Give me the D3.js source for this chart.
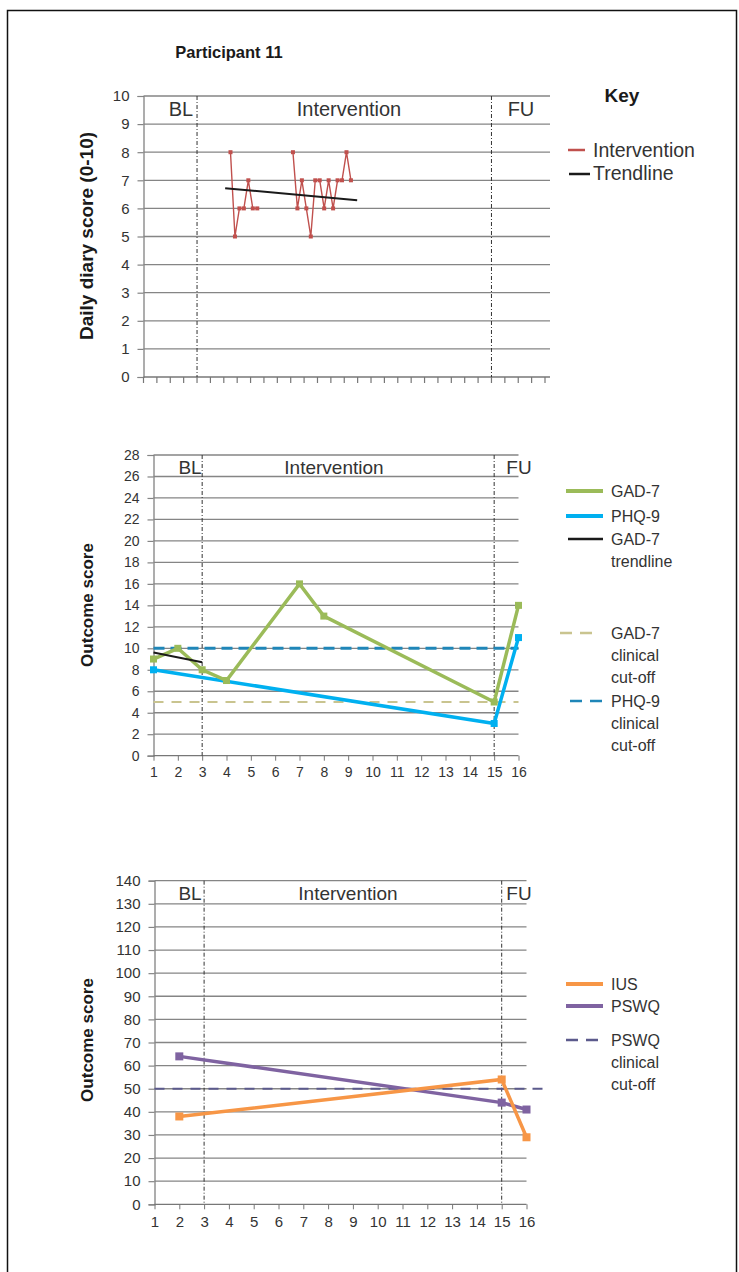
<!DOCTYPE html>
<html>
<head>
<meta charset="utf-8">
<script src="https://cdn.jsdelivr.net/npm/d3@7"></script>
<style>
  body { margin: 0; background: #fff; }
  svg { display: block; }
  text { font-family: "Liberation Sans", Arial, sans-serif; }
</style>
</head>
<body>
<svg id="chart" width="739" height="1272"></svg>
<script>
// ---- Participant 11 data ----
// Daily diary (0-10): day index on the diary timeline, score that day
const diaryDaysA = [19, 20, 21, 22, 23, 24, 25];
const diaryScoresA = [8, 5, 6, 6, 7, 6, 6];
const diaryDaysB = [33, 34, 35, 36, 37, 38, 39, 40, 41, 42, 43, 44, 45, 46];
const diaryScoresB = [8, 6, 7, 6, 5, 7, 7, 6, 7, 6, 7, 7, 8, 7];
const diaryTrendDays = [18.3, 47.9];
const diaryTrendScores = [6.72, 6.29];
const diaryTotalDays = 90;
const diaryTickStep = 3;
const diaryPhaseDays = [12, 78];
const diaryTicksY = [0, 1, 2, 3, 4, 5, 6, 7, 8, 9, 10];

// Session-by-session outcome measures
const sessionLabels = [1, 2, 3, 4, 5, 6, 7, 8, 9, 10, 11, 12, 13, 14, 15, 16];
const phaseSessions = [3, 15];

const gadSessions = [1, 2, 3, 4, 7, 8, 15, 16];
const gadScores = [9, 10, 8, 7, 16, 13, 5, 14];
const phqSessions = [1, 15, 16];
const phqScores = [8, 3, 11];
const gadTrendSessions = [1, 3];
const gadTrendScores = [9.6, 8.7];
const gadCutoff = 5;
const phqCutoff = 10;
const moodTicksY = [0, 2, 4, 6, 8, 10, 12, 14, 16, 18, 20, 22, 24, 26, 28];

const iusSessions = [2, 15, 16];
const iusScores = [38, 54, 29];
const pswqSessions = [2, 15, 16];
const pswqScores = [64, 44, 41];
const pswqCutoff = 50;
const worryTicksY = [0, 10, 20, 30, 40, 50, 60, 70, 80, 90, 100, 110, 120, 130, 140];

// ---- colours ----
const C = {
  diary: "#c0504d", gad: "#9bbb59", phq: "#00b0f0", ius: "#f79646", pswq: "#7f63a1",
  gadCut: "#c9c48f", phqCut: "#1f86b8", pswqCut: "#5b5a8c",
  grid: "#858585", axis: "#777", text: "#333", dark: "#1a1a1a"
};

const svg = d3.select("#chart");

// outer frame
svg.append("rect").attr("x", 7.5).attr("y", 10.5).attr("width", 729).attr("height", 1300)
  .attr("fill", "none").attr("stroke", "#111").attr("stroke-width", 1.5);

svg.append("text").attr("x", 229).attr("y", 58).attr("text-anchor", "middle")
  .attr("font-size", 16.5).attr("font-weight", "bold").attr("fill", C.dark)
  .text("Participant 11");

const lineGen = (x, y) => d3.line().x(d => x(d[0])).y(d => y(d[1]));
const pairs = (xs, ys) => xs.map((v, i) => [v, ys[i]]);

// generic panel frame: horizontal grid, y axis with ticks
function panel(opt) {
  const g = svg.append("g");
  const { y, x0, x1, yTicks, tickFont, labelGap } = opt;
  const yAxis = d3.axisLeft(y).tickValues(yTicks).tickSize(6).tickPadding(labelGap);
  const ga = g.append("g").attr("transform", `translate(${x0},0)`).call(yAxis);
  ga.select(".domain").attr("stroke", C.axis).attr("stroke-width", 1.2);
  ga.selectAll(".tick line").attr("stroke", C.grid).attr("stroke-width", 1.2);
  ga.selectAll(".tick text").attr("font-size", tickFont).attr("fill", C.text)
    .attr("font-family", "Liberation Sans, Arial, sans-serif");
  // horizontal gridlines
  g.append("g").selectAll("line").data(yTicks).join("line")
    .attr("x1", x0).attr("x2", x1).attr("y1", d => y(d)).attr("y2", d => y(d))
    .attr("stroke", d => d === 0 ? C.axis : C.grid).attr("stroke-width", 1.3);
  return g;
}

function phaseDividers(g, xs, yTop, yBot) {
  g.append("g").selectAll("line").data(xs).join("line")
    .attr("x1", d => d).attr("x2", d => d).attr("y1", yTop).attr("y2", yBot)
    .attr("stroke", "#333").attr("stroke-width", 1).attr("stroke-dasharray", "4,2,1,2");
}

function phaseLabels(g, pos, yy, size) {
  g.append("g").selectAll("text").data(pos).join("text")
    .attr("x", d => d[1]).attr("y", yy).attr("text-anchor", "middle")
    .attr("font-size", size).attr("fill", C.text).text(d => d[0]);
}

function axisTitle(xx, yy, txt, size) {
  svg.append("text").attr("transform", `translate(${xx},${yy}) rotate(-90)`)
    .attr("text-anchor", "middle").attr("font-size", size).attr("font-weight", "bold")
    .attr("fill", C.dark).text(txt);
}

function squares(g, pts, x, y, size, color) {
  g.append("g").selectAll("rect").data(pts).join("rect")
    .attr("x", d => x(d[0]) - size / 2).attr("y", d => y(d[1]) - size / 2)
    .attr("width", size).attr("height", size).attr("fill", color);
}

function legendLine(xa, xb, yy, color, w, dash) {
  svg.append("line").attr("x1", xa).attr("x2", xb).attr("y1", yy).attr("y2", yy)
    .attr("stroke", color).attr("stroke-width", w).attr("stroke-dasharray", dash || null);
}
function legendText(xx, yy, lines, size, lh) {
  const t = svg.append("text").attr("x", xx).attr("y", yy).attr("font-size", size).attr("fill", C.text);
  lines.forEach((s, i) => t.append("tspan").attr("x", xx).attr("dy", i ? lh : 0).text(s));
}

// ================= Panel 1: daily diary =================
{
  const x = d3.scaleLinear().domain([0, diaryTotalDays]).range([143.5, 545]);
  const y = d3.scaleLinear().domain([0, 10]).range([377, 96]);
  const g = panel({ y, x0: 143.5, x1: 550, yTicks: diaryTicksY, tickFont: 15, labelGap: 8 });
  // minor x ticks every few days
  g.append("g").selectAll("line").data(d3.range(0, diaryTotalDays + 1, diaryTickStep)).join("line")
    .attr("x1", d => x(d)).attr("x2", d => x(d)).attr("y1", 377).attr("y2", 383)
    .attr("stroke", C.axis).attr("stroke-width", 1.2);
  phaseDividers(g, diaryPhaseDays.map(d => x(d)), 96, 377);
  phaseLabels(g, [["BL", 181], ["Intervention", 349], ["FU", 521]], 116, 20);

  const la = pairs(diaryDaysA.map(d => d + 0.5), diaryScoresA);
  const lb = pairs(diaryDaysB.map(d => d + 0.5), diaryScoresB);
  [la, lb].forEach(pts => {
    g.append("path").attr("d", lineGen(x, y)(pts)).attr("fill", "none")
      .attr("stroke", C.diary).attr("stroke-width", 1.4);
    squares(g, pts, x, y, 4, C.diary);
  });
  g.append("path").attr("d", lineGen(x, y)(pairs(diaryTrendDays, diaryTrendScores)))
    .attr("fill", "none").attr("stroke", C.dark).attr("stroke-width", 2);

  axisTitle(93, 236, "Daily diary score (0-10)", 19);
  svg.append("text").attr("x", 622).attr("y", 102).attr("text-anchor", "middle")
    .attr("font-size", 19).attr("font-weight", "bold").attr("fill", C.dark).text("Key");
  legendLine(568, 585, 150, C.diary, 2.5);
  legendText(593, 157, ["Intervention"], 19.5);
  legendLine(569, 590, 174, C.dark, 2.5);
  legendText(593, 180, ["Trendline"], 19.5);
}

// ================= Panel 2: GAD-7 / PHQ-9 =================
{
  const x = d3.scaleLinear().domain([1, 16]).range([153.5, 518.5]);
  const y = d3.scaleLinear().domain([0, 28]).range([755.7, 455]);
  const g = panel({ y, x0: 153.5, x1: 518.5, yTicks: moodTicksY, tickFont: 14, labelGap: 8 });
  const xa = g.append("g").attr("transform", "translate(0,755.7)")
    .call(d3.axisBottom(x).tickValues(sessionLabels).tickSize(5).tickPadding(6));
  xa.select(".domain").remove();
  xa.selectAll(".tick line").attr("stroke", C.axis);
  xa.selectAll(".tick text").attr("font-size", 14).attr("fill", C.text)
    .attr("font-family", "Liberation Sans, Arial, sans-serif");
  phaseDividers(g, phaseSessions.map(d => x(d)), 455, 755.7);
  phaseLabels(g, [["BL", 190], ["Intervention", 334], ["FU", 519]], 474, 19);

  // clinical cut-offs
  g.append("line").attr("x1", x(1)).attr("x2", x(16)).attr("y1", y(gadCutoff)).attr("y2", y(gadCutoff))
    .attr("stroke", C.gadCut).attr("stroke-width", 2).attr("stroke-dasharray", "10,8");
  g.append("line").attr("x1", x(1)).attr("x2", x(16)).attr("y1", y(phqCutoff)).attr("y2", y(phqCutoff))
    .attr("stroke", C.phqCut).attr("stroke-width", 3).attr("stroke-dasharray", "11,6");

  const gad = pairs(gadSessions, gadScores);
  const phq = pairs(phqSessions, phqScores);
  g.append("path").attr("d", lineGen(x, y)(phq)).attr("fill", "none")
    .attr("stroke", C.phq).attr("stroke-width", 3.5);
  squares(g, phq, x, y, 7, C.phq);
  g.append("path").attr("d", lineGen(x, y)(gad)).attr("fill", "none")
    .attr("stroke", C.gad).attr("stroke-width", 3.5);
  squares(g, gad, x, y, 7, C.gad);
  g.append("path").attr("d", lineGen(x, y)(pairs(gadTrendSessions, gadTrendScores)))
    .attr("fill", "none").attr("stroke", C.dark).attr("stroke-width", 2);

  axisTitle(93, 605, "Outcome score", 17);
  legendLine(566, 603, 491, C.gad, 4);
  legendText(611, 497, ["GAD-7"], 16);
  legendLine(566, 603, 516, C.phq, 4);
  legendText(611, 522, ["PHQ-9"], 16);
  legendLine(568, 603, 539, C.dark, 2.5);
  legendText(611, 545, ["GAD-7", "trendline"], 16, 22);
  legendLine(560, 595, 633, C.gadCut, 2.5, "12,8");
  legendText(611, 639, ["GAD-7", "clinical", "cut-off"], 16, 22);
  legendLine(570, 605, 701, C.phqCut, 2.5, "12,8");
  legendText(611, 707, ["PHQ-9", "clinical", "cut-off"], 16, 22);
}

// ================= Panel 3: IUS / PSWQ =================
{
  const x = d3.scaleLinear().domain([1, 16]).range([154.5, 526.5]);
  const y = d3.scaleLinear().domain([0, 140]).range([1204.3, 880.7]);
  const g = panel({ y, x0: 154.5, x1: 526.5, yTicks: worryTicksY, tickFont: 15, labelGap: 8 });
  const xa = g.append("g").attr("transform", "translate(0,1204.3)")
    .call(d3.axisBottom(x).tickValues(sessionLabels).tickSize(5).tickPadding(7));
  xa.select(".domain").remove();
  xa.selectAll(".tick line").attr("stroke", C.axis);
  xa.selectAll(".tick text").attr("font-size", 15).attr("fill", C.text)
    .attr("font-family", "Liberation Sans, Arial, sans-serif");
  phaseDividers(g, phaseSessions.map(d => x(d)), 880.7, 1204.3);
  phaseLabels(g, [["BL", 190], ["Intervention", 348], ["FU", 519]], 900, 19);

  g.append("line").attr("x1", x(1)).attr("x2", x(16.7)).attr("y1", y(pswqCutoff)).attr("y2", y(pswqCutoff))
    .attr("stroke", C.pswqCut).attr("stroke-width", 2).attr("stroke-dasharray", "10,8");

  const ius = pairs(iusSessions, iusScores);
  const pswq = pairs(pswqSessions, pswqScores);
  g.append("path").attr("d", lineGen(x, y)(pswq)).attr("fill", "none")
    .attr("stroke", C.pswq).attr("stroke-width", 3.5);
  squares(g, pswq, x, y, 8, C.pswq);
  g.append("path").attr("d", lineGen(x, y)(ius)).attr("fill", "none")
    .attr("stroke", C.ius).attr("stroke-width", 3.5);
  squares(g, ius, x, y, 8, C.ius);

  axisTitle(93, 1040, "Outcome score", 17);
  legendLine(566, 603, 984, C.ius, 4);
  legendText(611, 990, ["IUS"], 16);
  legendLine(566, 603, 1006, C.pswq, 4);
  legendText(611, 1012, ["PSWQ"], 16);
  legendLine(566, 603, 1040, C.pswqCut, 2.5, "12,8");
  legendText(611, 1046, ["PSWQ", "clinical", "cut-off"], 16, 22);
}
</script>
</body>
</html>
